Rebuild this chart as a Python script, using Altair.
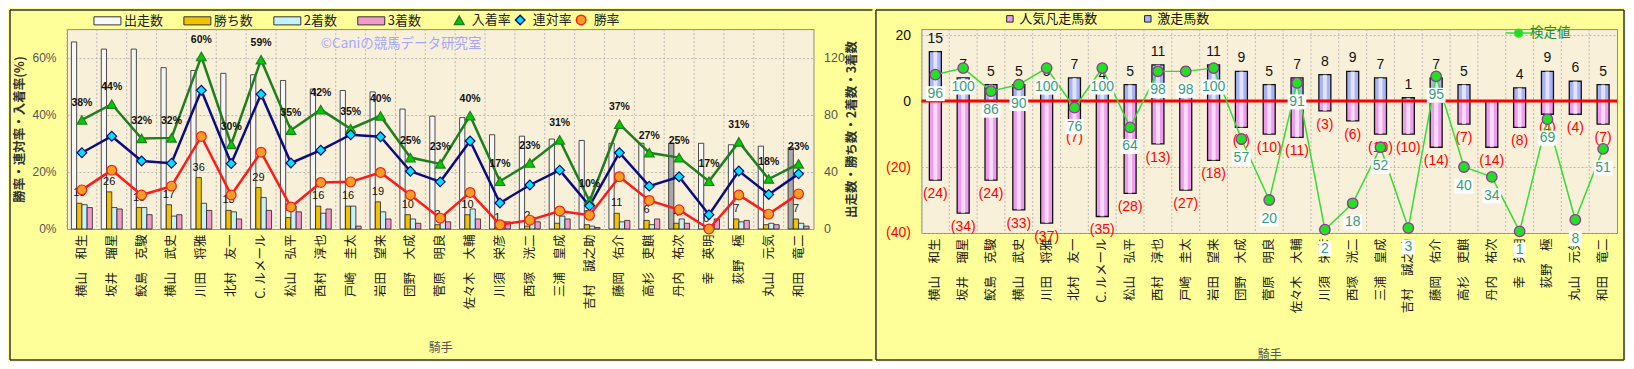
import altair as alt
import pandas as pd

# ---------------- data ----------------
jockeys = ["横山　和生", "坂井　瑠星", "鮫島　克駿", "横山　武史", "川田　将雅", "北村　友一",
           "C. ルメール", "松山　弘平", "西村　淳也", "戸崎　圭太", "岩田　望来", "団野　大成",
           "菅原　明良", "佐々木　大輔", "川須　栄彦", "西塚　洸二", "三浦　皇成", "吉村　誠之助",
           "藤岡　佑介", "高杉　吏麒", "丹内　祐次", "幸　英明", "荻野　極", "丸山　元気", "和田　竜二"]

starts = [131, 126, 126, 113, 111, 109, 108, 104, 98, 97, 96, 84, 79, 78, 66, 65, 63, 62, 60, 60, 60, 60, 59, 58, 57]
wins = [18, 26, 15, 17, 36, 13, 29, 8, 16, 16, 19, 10, 3, 10, 1, 2, 4, 3, 11, 6, 4, 0, 7, 3, 7]
seconds = [17, 15, 15, 9, 18, 12, 22, 16, 11, 16, 12, 7, 10, 14, 5, 8, 9, 2, 5, 3, 7, 3, 5, 4, 4]
thirds = [15, 14, 10, 10, 13, 7, 13, 12, 14, 2, 7, 4, 5, 7, 5, 5, 7, 1, 6, 7, 4, 7, 6, 3, 2]
grey_starts = ["丹内　祐次", "和田　竜二"]

place_rate = [38.2, 43.7, 31.7, 31.9, 60.4, 29.6, 59.3, 34.6, 41.8, 35.1, 39.6, 25.0, 22.8, 39.7,
              16.7, 23.1, 31.2, 9.7, 36.7, 26.7, 25.0, 16.7, 30.5, 17.5, 22.8]
rentai_rate = [26.7, 32.5, 23.8, 23.0, 48.6, 22.9, 47.2, 23.1, 27.6, 33.0, 32.3, 20.2, 16.5, 30.8,
               9.1, 15.4, 20.6, 8.1, 26.7, 15.0, 18.3, 5.0, 20.3, 12.1, 19.3]
win_rate = [13.7, 20.6, 11.9, 15.0, 32.4, 11.9, 26.9, 7.7, 16.3, 16.5, 19.8, 11.9, 3.8, 12.8,
            1.5, 3.1, 6.3, 4.8, 18.3, 10.0, 6.7, 0.0, 11.9, 5.2, 12.3]

gekisou = [15, 7, 5, 5, 5, 7, 4, 5, 11, 5, 11, 9, 5, 7, 8, 9, 7, 1, 7, 5, 0, 4, 9, 6, 5]
bonsou = [24, 34, 24, 33, 37, 7, 35, 28, 13, 27, 18, 8, 10, 11, 3, 6, 10, 10, 14, 7, 14, 8, 4, 4, 7]
kentei = [96, 100, 86, 90, 100, 76, 100, 64, 98, 98, 100, 57, 20, 91, 2, 18, 52, 3, 95, 40, 34, 1, 69, 8, 51]

watermark = "©Caniの競馬データ研究室"

bar_series = ["出走数", "勝ち数", "2着数", "3着数"]
rate_series = ["入着率", "連対率", "勝率"]
kind_series = ["人気凡走馬数", "激走馬数"]

# ---------------- styles ----------------
FONT_JP = "Noto Sans CJK JP"
FONT_NUM = "Liberation Sans"
bar_colors = ["#F7F7F7", "#F2C200", "#C6F3F9", "#F29BC9"]
line_colors = ["#1F7F1F", "#0B0B82", "#FF1A1A"]
marker_fill = ["#00CC00", "#00E3F2", "#F2A024"]
marker_shape = ["triangle-up", "diamond", "circle"]
GRID = "#ABABAB"
FRAME = "#333333"

# ---------------- tables ----------------
bar_rows = []
for i, j in enumerate(jockeys):
    for s, vals in zip(bar_series, [starts, wins, seconds, thirds]):
        bar_rows.append({"jockey": j, "series": s, "value": vals[i],
                         "grey": bool(s == "出走数" and j in grey_starts)})
bars_df = pd.DataFrame(bar_rows)

rate_rows = []
for i, j in enumerate(jockeys):
    for s, vals in zip(rate_series, [place_rate, rentai_rate, win_rate]):
        rate_rows.append({"jockey": j, "series": s, "rate": vals[i] / 100.0})
rates_df = pd.DataFrame(rate_rows)

rb_rows = []
for i, j in enumerate(jockeys):
    rb_rows.append({"jockey": j, "kind": "激走馬数", "value": gekisou[i]})
    rb_rows.append({"jockey": j, "kind": "人気凡走馬数", "value": -bonsou[i]})
rb_df = pd.DataFrame(rb_rows)

k_df = pd.DataFrame({"jockey": jockeys, "kentei": kentei, "name": ["検定値"] * len(jockeys)})
k_df["nd"] = k_df["kentei"].astype(str).str.len().astype(str)

j_df = pd.DataFrame({"jockey": jockeys})
one_df = pd.DataFrame({"a": [0]})

XS = alt.Scale(paddingInner=0, paddingOuter=0)


def x_enc(axis=None, show=True):
    if show:
        return alt.X("jockey:N", sort=jockeys, scale=XS, axis=axis)
    return alt.X("jockey:N", sort=jockeys, scale=XS)


def bottom_axis(tp):
    return alt.Axis(orient="bottom", labelAngle=270, labelFont=FONT_JP, labelFontSize=12.5,
                    labelColor="#1A1A1A", labelPadding=5, labelOverlap=False, labelLimit=200,
                    ticks=False, domain=False, grid=False, bandPosition=0.5,
                    title="騎手", titleFont=FONT_JP, titleFontSize=12, titleFontWeight="normal",
                    titleColor="#555555", titlePadding=tp)


def vgrid():
    return alt.Chart(j_df).mark_rule(color=GRID, strokeDash=[2, 2], strokeWidth=0.8).encode(
        x=alt.X("jockey:N", sort=jockeys, scale=XS, bandPosition=0)
    )


def frame(x1, x2, y1, y2, op=1.0, sides=("l", "t", "b", "r")):
    out = []
    if "l" in sides:
        out.append(alt.Chart(one_df).mark_rule(color=FRAME, strokeWidth=1.5, opacity=op).encode(
            x=alt.value(x1), y=alt.value(y1), y2=alt.value(y2)))
    if "r" in sides:
        out.append(alt.Chart(one_df).mark_rule(color=FRAME, strokeWidth=1.5, opacity=op).encode(
            x=alt.value(x2), y=alt.value(y1), y2=alt.value(y2)))
    if "t" in sides:
        out.append(alt.Chart(one_df).mark_rule(color=FRAME, strokeWidth=1.5, opacity=op).encode(
            x=alt.value(x1), x2=alt.value(x2), y=alt.value(y1)))
    if "b" in sides:
        out.append(alt.Chart(one_df).mark_rule(color=FRAME, strokeWidth=1.5, opacity=op).encode(
            x=alt.value(x1), x2=alt.value(x2), y=alt.value(y2)))
    return out


# ================= LEFT PANEL =================
W1, H1 = 747, 200

xoff = alt.XOffset("series:N", sort=bar_series,
                   scale=alt.Scale(domain=bar_series, paddingInner=0, paddingOuter=0.85))
count_scale = alt.Scale(domain=[0, 140])
rate_scale = alt.Scale(domain=[0, 0.7])

count_axis = alt.Axis(orient="right", values=[0, 20, 40, 60, 80, 100, 120, 140], grid=False,
                      ticks=False, domain=False, labelPadding=10, labelFont=FONT_NUM,
                      labelFontSize=12.5, labelColor="#555555", labelOverlap=False,
                      title="出走数・勝ち数・2着数・3着数", titleAngle=270, titleBaseline="top",
                      titleFont=FONT_JP, titleFontSize=12.5, titleFontWeight="bold",
                      titleColor="#333333", titlePadding=1)

bar_legend = alt.Legend(orient="none", legendX=33, legendY=-16, direction="horizontal", title=None,
                        symbolType="M-2,-0.6H2V0.6H-2Z", symbolSize=182, symbolStrokeColor="#333333",
                        symbolStrokeWidth=1, labelFont=FONT_JP, labelFontSize=13, labelColor="#222222",
                        labelOffset=9, columnPadding=18)

bars = alt.Chart(bars_df).mark_bar(stroke="#222222", strokeWidth=0.8).encode(
    x=x_enc(bottom_axis(34)),
    xOffset=xoff,
    y=alt.Y("value:Q", scale=count_scale, axis=count_axis),
    fill=alt.condition("datum.grey", alt.value("#A8A8A8"),
                       alt.Fill("series:N", scale=alt.Scale(domain=bar_series, range=bar_colors),
                                legend=bar_legend)),
)

win_labels = alt.Chart(bars_df).transform_filter("datum.series == '勝ち数'").mark_text(
    font=FONT_NUM, fontSize=11, color="#111111", dy=-10
).encode(
    x=x_enc(show=False), xOffset=xoff,
    y=alt.Y("value:Q", scale=count_scale),
    text="value:Q",
)

rate_axis = alt.Axis(orient="left", format=".0%", values=[0, 0.1, 0.2, 0.3, 0.4, 0.5, 0.6, 0.7],
                     grid=True, gridColor=GRID, gridDash=[2, 2], gridWidth=0.8,
                     ticks=False, domain=False, labelPadding=11, labelFont=FONT_NUM,
                     labelFontSize=12, labelColor="#555555", labelOverlap=False,
                     title="勝率・連対率・入着率(%)", titleFont=FONT_JP, titleFontSize=12.5,
                     titleFontWeight="bold", titleColor="#333333", titlePadding=5)


def rate_legend():
    return alt.Legend(orient="none", legendX=386, legendY=-16, direction="horizontal", title=None,
                      symbolSize=90, symbolStrokeWidth=1.5,
                      labelFont=FONT_JP, labelFontSize=13, labelColor="#222222",
                      labelOffset=6, columnPadding=0)


stroke_enc = alt.Stroke("series:N", scale=alt.Scale(domain=rate_series, range=line_colors),
                        legend=rate_legend())

lines = alt.Chart(rates_df).mark_line(strokeWidth=2.5).encode(
    x=x_enc(show=False),
    y=alt.Y("rate:Q", scale=rate_scale, axis=rate_axis),
    stroke=stroke_enc,
)

markers = alt.Chart(rates_df).mark_point(filled=True, strokeWidth=1.2, size=95, opacity=1).encode(
    x=x_enc(show=False),
    y=alt.Y("rate:Q", scale=rate_scale),
    stroke=stroke_enc,
    color=alt.Color("series:N", scale=alt.Scale(domain=rate_series, range=marker_fill),
                    legend=rate_legend()),
    shape=alt.Shape("series:N", scale=alt.Scale(domain=rate_series, range=marker_shape),
                    legend=rate_legend()),
)

pct_labels = alt.Chart(rates_df).transform_filter("datum.series == '入着率'").transform_calculate(
    lab="format(datum.rate * 100, '.0f') + '%'"
).mark_text(font=FONT_NUM, fontSize=10.5, fontWeight="bold", color="#111111", dy=-17).encode(
    x=x_enc(show=False), y=alt.Y("rate:Q", scale=rate_scale), text="lab:N"
)

wm = alt.Chart(pd.DataFrame({"t": [watermark]})).mark_text(
    align="left", baseline="middle", color="#A6A6FF", fontSize=13.5, font=FONT_JP
).encode(text="t:N", x=alt.value(254), y=alt.value(15))

left_frame = frame(-57, 806, -19, 331, sides=("l", "t", "b")) + frame(-57, 806, -19, 331, op=0, sides=("r",))

left = alt.layer(
    alt.layer(vgrid(), bars, win_labels, *left_frame),
    alt.layer(lines, markers, pct_labels, wm),
).resolve_scale(y="independent").properties(width=W1, height=H1)

# ================= RIGHT PANEL =================
W2, H2 = 696, 204
ry_scale = alt.Scale(domain=[-40, 21.82])
k_scale = alt.Scale(domain=[0, 123.64])

ry_axis = alt.Axis(orient="left", values=[-40, -30, -20, -10, 0, 10, 20], grid=True,
                   gridColor=GRID, gridDash=[2, 2], gridWidth=0.8, ticks=False, domain=False,
                   labelPadding=11, labelFont=FONT_NUM, labelFontSize=14, labelOverlap=False,
                   labelColor={"condition": {"test": "datum.value < 0", "value": "#FF0000"},
                               "value": "#111111"},
                   labelExpr="datum.value < 0 ? '(' + abs(datum.value) + ')' : '' + datum.value",
                   title=None)

kind_legend = alt.Legend(orient="none", legendX=82, legendY=-17, direction="horizontal", title=None,
                         symbolType="square", symbolSize=42, symbolStrokeColor="#222222",
                         symbolStrokeWidth=1, labelFont=FONT_JP, labelFontSize=13,
                         labelColor="#111111", labelOffset=3, columnPadding=43)

rbars = alt.Chart(rb_df).transform_filter("datum.value != 0").mark_bar(
    size=12, stroke="#111111", strokeWidth=1.3
).encode(
    x=x_enc(bottom_axis(37)),
    y=alt.Y("value:Q", scale=ry_scale, axis=ry_axis),
    fill=alt.Fill("kind:N", scale=alt.Scale(domain=kind_series, range=["#EE9CEE", "#A9B2F7"]),
                  legend=kind_legend),
)

rhl = alt.Chart(rb_df).transform_filter("datum.value != 0").mark_bar(
    size=4, color="#FFFFFF", opacity=0.65
).encode(x=x_enc(show=False), y=alt.Y("value:Q", scale=ry_scale))

zero_rule = alt.Chart(pd.DataFrame({"z": [0]})).mark_rule(color="#FF0000", strokeWidth=3).encode(
    y=alt.Y("z:Q", scale=ry_scale)
)

pos_labels = alt.Chart(rb_df).transform_filter("datum.value > 0").mark_text(
    font=FONT_NUM, fontSize=14, color="#111111", dy=-13
).encode(x=x_enc(show=False), y=alt.Y("value:Q", scale=ry_scale), text="value:Q")

neg_labels = alt.Chart(rb_df).transform_filter("datum.value < 0").transform_calculate(
    lab="'(' + abs(datum.value) + ')'"
).mark_text(font=FONT_NUM, fontSize=14, color="#FF0000", dy=14).encode(
    x=x_enc(show=False), y=alt.Y("value:Q", scale=ry_scale), text="lab:N"
)

right_frame = frame(-45.5, 703, -19, 331)

k_legend = alt.Legend(orient="none", legendX=590, legendY=-3.5, direction="horizontal", title=None,
                      symbolType="M-2,0H-0.6M0.6,0H2M0.6,0A0.6,0.6,0,1,1,-0.6,0A0.6,0.6,0,1,1,0.6,0Z",
                      symbolSize=169, symbolStrokeWidth=1.5, symbolFillColor="#22DD22",
                      labelFont=FONT_JP, labelFontSize=13.5, labelColor="#1E8F1E", labelOffset=4)

kline = alt.Chart(k_df).mark_line(strokeWidth=1.5).encode(
    x=x_enc(show=False),
    y=alt.Y("kentei:Q", scale=k_scale, axis=None),
    stroke=alt.Stroke("name:N", scale=alt.Scale(domain=["検定値"], range=["#33DD33"]), legend=k_legend),
)

kboxes = alt.Chart(k_df).mark_point(filled=True, color="#FFFFFF", opacity=1, size=225, yOffset=19).encode(
    x=x_enc(show=False),
    y=alt.Y("kentei:Q", scale=k_scale, axis=None),
    shape=alt.Shape("nd:N", scale=alt.Scale(domain=["1", "2", "3"],
                                            range=["M-0.85,-1H0.85V1H-0.85Z",
                                                   "M-1.25,-1H1.25V1H-1.25Z",
                                                   "M-1.6,-1H1.6V1H-1.6Z"]), legend=None),
)

ktext = alt.Chart(k_df).mark_text(font=FONT_NUM, fontSize=14, color="#3A9B7C", dy=19).encode(
    x=x_enc(show=False), y=alt.Y("kentei:Q", scale=k_scale, axis=None), text="kentei:Q"
)

kpts = alt.Chart(k_df).mark_point(shape="circle", filled=True, fill="#22E022", stroke="#9932A0",
                                  strokeWidth=1.3, size=110, opacity=1).encode(
    x=x_enc(show=False), y=alt.Y("kentei:Q", scale=k_scale, axis=None)
)

right = alt.layer(
    alt.layer(vgrid(), rbars, rhl, zero_rule, pos_labels, neg_labels, *right_frame),
    alt.layer(kline, kboxes, ktext, kpts),
).resolve_scale(y="independent").properties(width=W2, height=H2)

chart = alt.hconcat(left, right, spacing=0).resolve_scale(
    fill="independent", stroke="independent", shape="independent", color="independent"
).properties(
    padding={"left": 0, "top": 0, "right": 0, "bottom": 0}
).configure(background="#FFFF99").configure_view(
    fill="#F9F0DA", stroke="#8C8C8C", strokeWidth=1
)

chart.save("out.html", embed_options={"renderer": "svg", "actions": False})
